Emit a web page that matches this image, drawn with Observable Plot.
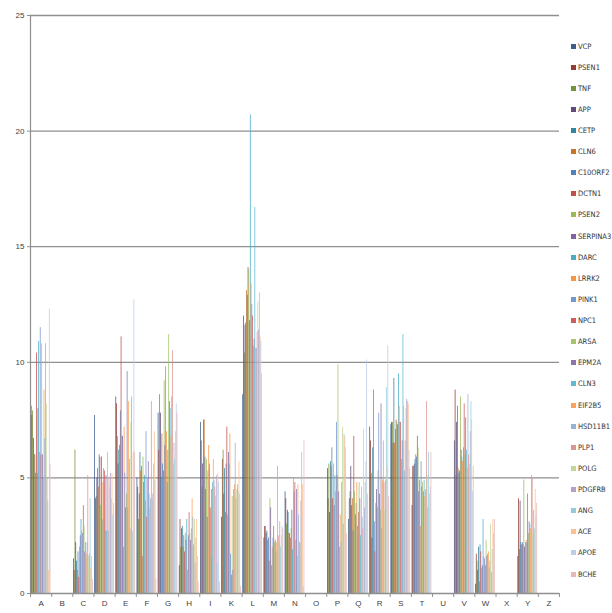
<!DOCTYPE html>
<html><head><meta charset="utf-8">
<script src="https://cdn.jsdelivr.net/npm/d3@7"></script>
<script src="https://cdn.jsdelivr.net/npm/@observablehq/plot@0.6"></script>
<style>
body{margin:0;background:#fff;}
#wrap{position:relative;width:612px;height:613px;font-family:"Liberation Sans",Arial,sans-serif;}
#legend{position:absolute;left:571px;top:0;}
.item{position:absolute;left:0;display:flex;align-items:center;font-family:"Liberation Sans Narrow","DejaVu Sans Condensed","Liberation Sans",sans-serif;font-size:7.5px;color:#333;white-space:nowrap;height:10px;}
.sw{width:5px;height:5px;margin-right:2px;}
</style></head><body><div id="wrap"><div id="legend"></div></div>
<script>
const categories = ["A","B","C","D","E","F","G","H","I","K","L","M","N","O","P","Q","R","S","T","U","V","W","X","Y","Z"];
const series = ["VCP","PSEN1","TNF","APP","CETP","CLN6","C10ORF2","DCTN1","PSEN2","SERPINA3","DARC","LRRK2","PINK1","NPC1","ARSA","EPM2A","CLN3","EIF2B5","HSD11B1","PLP1","POLG","PDGFRB","ANG","ACE","APOE","BCHE"];
const colors = ["#3B5E8E","#943C39","#77933C","#604A7B","#31859C","#C8742B","#4F81BD","#C0504D","#9BBB59","#8064A2","#4BACC6","#F79646","#7397D2","#CD5E5B","#A6C46D","#8E74AE","#5FBBD3","#F9A35F","#95B3D7","#D99694","#C3D69B","#B3A2C7","#93CDDD","#FAC08F","#B9CDE5","#E6B9B8"];

const vA = [8.1, 7.7, 7.9, 6.7, 6.0, 6.0, 5.2, 10.4, 5.2, 8.0, 10.9, 6.1, 11.5, 6.0, 10.8, 6.0, 5.0, 8.8, 6.7, 10.8, 8.2, 5.0, 4.0, 1.0, 12.3, 5.6];
const vB = [0,0,0,0,0,0,0,0,0,0,0,0,0,0,0,0,0,0,0,0,0,0,0,0,0,0];
const vC = [1.5, 1.0, 6.2, 2.2, 1.4, 1.0, 1.8, 0.7, 2.0, 2.5, 3.2, 2.7, 2.6, 3.8, 2.9, 1.8, 2.2, 1.7, 2.2, 5.1, 1.6, 1.7, 4.1, 1.1, 1.6, 0.6];
const vD = [7.7, 4.1, 4.2, 5.0, 5.4, 4.6, 6.0, 5.9, 3.8, 5.9, 3.2, 4.8, 5.4, 5.3, 2.7, 5.1, 2.7, 6.1, 2.7, 5.0, 4.6, 5.2, 4.1, 5.2, 3.4, 3.9];
const vE = [8.5, 8.2, 6.8, 5.6, 6.2, 6.4, 7.9, 11.1, 6.8, 6.8, 2.0, 7.2, 5.2, 3.7, 4.3, 9.6, 3.7, 8.3, 5.8, 2.8, 7.4, 8.5, 2.7, 6.1, 12.7, 6.1];
const vF = [5.0, 4.6, 3.2, 4.3, 6.1, 5.3, 5.5, 1.6, 5.9, 4.8, 5.1, 4.0, 7.0, 3.3, 5.0, 5.7, 4.3, 3.7, 4.1, 8.3, 4.0, 4.3, 5.6, 7.0, 4.9, 0.6];
const vG = [7.8, 6.2, 8.6, 7.8, 5.0, 6.9, 5.6, 5.3, 9.2, 6.4, 9.8, 7.0, 4.8, 6.2, 11.2, 8.3, 8.0, 6.8, 8.5, 10.5, 5.6, 6.5, 5.8, 7.0, 8.2, 7.8];
const vH = [1.2, 3.2, 2.0, 2.8, 2.9, 2.0, 2.5, 1.8, 2.6, 2.3, 3.2, 1.0, 2.5, 3.5, 2.6, 2.3, 2.8, 4.1, 3.3, 2.1, 3.2, 1.3, 2.4, 3.2, 1.6, 0.5];
const vI = [7.4, 6.6, 4.6, 5.6, 7.5, 7.5, 5.9, 4.5, 5.8, 3.3, 5.3, 6.4, 5.6, 3.7, 1.6, 4.5, 4.8, 5.8, 4.9, 4.6, 4.2, 5.1, 1.3, 5.2, 4.8, 0.5];
const vK = [3.3, 5.8, 6.2, 4.3, 5.4, 3.5, 5.6, 7.2, 3.4, 6.1, 5.6, 6.9, 1.7, 0.8, 4.2, 1.0, 4.5, 4.7, 6.5, 4.1, 4.5, 4.7, 4.4, 5.7, 4.3, 0.3];
const vL = [8.6, 12.0, 10.4, 11.6, 11.7, 13.1, 12.9, 14.1, 14.0, 11.8, 20.7, 13.4, 12.5, 12.0, 10.7, 11.0, 16.7, 10.6, 10.6, 11.3, 12.6, 11.4, 13.0, 11.1, 10.9, 9.5];
const vM = [2.4, 2.9, 2.9, 2.6, 2.7, 2.3, 2.4, 1.4, 4.1, 3.7, 1.2, 2.0, 2.4, 2.9, 2.2, 2.3, 1.8, 2.2, 5.5, 2.5, 2.2, 3.1, 2.0, 2.5, 2.9, 2.8];
const vN = [4.4, 4.1, 3.0, 3.6, 3.5, 2.6, 2.6, 2.4, 2.8, 3.6, 1.9, 5.0, 4.4, 4.8, 2.3, 4.5, 1.6, 4.7, 3.4, 2.2, 2.2, 4.0, 6.1, 4.7, 0.3, 6.6];
const vO = [0,0,0,0,0,0,0,0,0,0,0,0,0,0,0,0,0,0,0,0,0,0,0,0,0,0];
const vP = [5.4, 4.1, 5.6, 3.5, 5.7, 5.5, 6.3, 4.1, 5.6, 3.8, 5.1, 4.4, 7.4, 5.1, 9.9, 4.4, 2.0, 3.4, 2.2, 4.8, 7.2, 3.0, 6.9, 6.8, 6.3, 2.6];
const vQ = [3.2, 4.1, 4.4, 5.5, 3.8, 4.1, 2.7, 6.8, 4.4, 3.4, 3.9, 4.8, 2.9, 3.5, 4.8, 4.1, 2.5, 4.6, 3.3, 2.8, 7.1, 3.7, 4.8, 5.7, 10.1, 4.3];
const vR = [7.2, 6.6, 5.2, 2.4, 6.3, 8.8, 3.1, 1.8, 3.9, 4.5, 3.7, 5.3, 7.8, 4.3, 3.6, 8.2, 2.8, 4.9, 6.6, 4.8, 3.6, 4.9, 8.9, 5.5, 10.7, 4.2];
const vS = [7.3, 7.4, 7.4, 6.5, 9.3, 6.5, 7.1, 7.5, 7.4, 7.3, 9.5, 8.1, 7.4, 7.4, 5.8, 6.6, 11.2, 8.1, 5.3, 6.6, 8.0, 8.4, 8.3, 8.2, 6.2, 5.4];
const vT = [3.8, 5.5, 5.5, 5.6, 5.8, 6.0, 5.9, 6.8, 6.3, 4.4, 4.9, 2.9, 5.7, 4.6, 4.8, 4.4, 4.9, 4.2, 4.5, 8.3, 5.1, 3.7, 6.1, 4.3, 4.6, 6.1];
const vU = [0,0,0,0,0,0,0,0,0,0,0,0,0,0,0,0,0,0,0,0,0,0,0,0,0,0];
const vV = [6.6, 8.8, 5.1, 7.4, 8.1, 5.4, 5.2, 5.3, 8.5, 6.2, 5.9, 5.7, 6.3, 8.2, 6.0, 7.6, 6.2, 5.4, 8.6, 6.0, 5.6, 7.0, 8.3, 7.5, 4.4, 5.5];
const vW = [0.4, 1.7, 1.4, 1.0, 2.0, 0.5, 2.1, 1.8, 1.1, 1.2, 3.2, 1.6, 1.5, 1.2, 2.3, 1.6, 1.7, 1.8, 1.1, 1.4, 3.0, 0.9, 1.9, 3.2, 2.6, 3.2];
const vX = [0,0,0,0,0,0,0,0,0,0,0,0,0,0,0,0,0,0,0,0,0,0,0,0,0,0];
const vY = [1.6, 4.1, 1.9, 4.0, 2.2, 2.1, 2.2, 2.1, 4.9, 2.0, 2.2, 2.3, 2.2, 4.3, 2.6, 3.1, 3.0, 2.8, 5.1, 5.0, 2.6, 3.6, 2.8, 4.5, 3.3, 3.9];
const vZ = [0,0,0,0,0,0,0,0,0,0,0,0,0,0,0,0,0,0,0,0,0,0,0,0,0,0];
const yTicks = [0, 5, 10, 15, 20, 25];

const groups = [vA,vB,vC,vD,vE,vF,vG,vH,vI,vK,vL,vM,vN,vO,vP,vQ,vR,vS,vT,vU,vV,vW,vX,vY,vZ];
const rows = [];
groups.forEach((vals, gi) => vals.forEach((v, i) => {
  if (v > 0) rows.push({key: categories[gi] + "|" + series[i], series: series[i], value: v});
}));
// band domain: one spacer slot each side of every category group
const keyDomain = categories.flatMap(c => [c + "|_a", ...series.map(s => c + "|" + s), c + "|_b"]);

const left = 30, right = 53, W = 612;
const step = (W - left - right) / keyDomain.length;
const gridColor = "#8f8f8f";
const textColor = "#404040";

const chart = Plot.plot({
  width: W, height: 613,
  marginLeft: left, marginRight: right, marginTop: 15, marginBottom: 20,
  style: {fontFamily: "'Liberation Sans', Arial, sans-serif", fontSize: "8px", color: textColor, background: "#fff"},
  x: {type: "band", domain: keyDomain, padding: 0, round: false, label: null, axis: null},
  y: {type: "linear", domain: [0, 25], label: null},
  color: {domain: series, range: colors},
  marks: [
    Plot.ruleY(yTicks.slice(1), {stroke: gridColor, strokeWidth: 1.3}),
    Plot.barY(rows, {x: "key", y: "value", fill: "series"}),
    Plot.ruleY([0], {stroke: gridColor, strokeWidth: 1.3}),
    Plot.ruleX(categories.map(c => c + "|_a"), {x: d => d, y1: 0, y2: -0.17, dx: -step / 2, stroke: gridColor}),
    Plot.ruleX(["Z|_b"], {x: d => d, y1: 0, y2: -0.17, dx: step / 2, stroke: gridColor}),
    Plot.ruleX(["A|_a"], {x: d => d, y1: 0, y2: 25, dx: -step / 2, stroke: gridColor, strokeWidth: 1.2}),
    Plot.axisY({ticks: yTicks, tickSize: 3, tickPadding: 3, label: null, stroke: gridColor, fill: textColor}),
    Plot.axisX({ticks: categories.map(c => c + "|" + series[12]), tickFormat: d => d.split("|")[0], tickSize: 0, tickPadding: 7, dx: step / 2, label: null, fill: textColor})
  ]
});
document.getElementById("wrap").prepend(chart);

const legend = document.getElementById("legend");
series.forEach((s, i) => {
  const it = document.createElement("div");
  it.className = "item";
  it.style.top = (46 + i * 21.12 - 5) + "px";
  it.innerHTML = `<span class="sw" style="background:${colors[i]}"></span><span>${s}</span>`;
  legend.appendChild(it);
});
</script></body></html>
